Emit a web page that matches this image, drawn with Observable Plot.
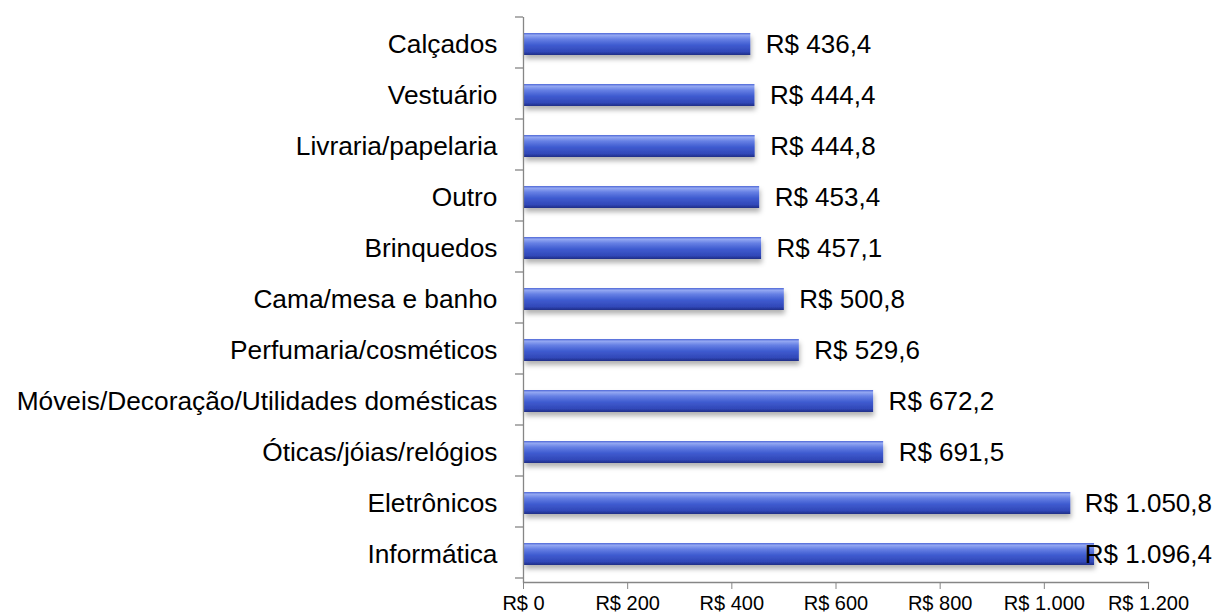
<!DOCTYPE html>
<html>
<head>
<meta charset="utf-8">
<script src="https://cdn.jsdelivr.net/npm/d3@7"></script>
<script src="https://cdn.jsdelivr.net/npm/@observablehq/plot@0.6"></script>
<style>
  html, body { margin: 0; padding: 0; background: #fff; }
  #chart svg { display: block; font-family: "Liberation Sans", Arial, sans-serif; }
</style>
</head>
<body>
<div id="chart"></div>
<script>
const categories = [
  "Calçados", "Vestuário", "Livraria/papelaria", "Outro", "Brinquedos",
  "Cama/mesa e banho", "Perfumaria/cosméticos",
  "Móveis/Decoração/Utilidades domésticas", "Óticas/jóias/relógios",
  "Eletrônicos", "Informática"
];
const values = [436.4, 444.4, 444.8, 453.4, 457.1, 500.8, 529.6, 672.2, 691.5, 1050.8, 1096.4];
const xTicks = [0, 200, 400, 600, 800, 1000, 1200];

const data = categories.map((c, i) => ({category: c, value: values[i]}));

const br = d3.formatLocale({decimal: ",", thousands: ".", grouping: [3], currency: ["R$ ", ""]});
const fmtVal = br.format(",.1f");
const fmtTick = br.format(",.0f");

const W = 1214, H = 616;

const boundaryTicks = (index, scales, values, dims) => {
  const y = scales.y;
  const [r0] = y.range();
  const step = y.step();
  const g = d3.create("svg:g").attr("stroke", "#868686").attr("stroke-width", 1.3);
  for (let i = 0; i <= categories.length; i++) {
    const yy = r0 + i * step;
    g.append("line")
      .attr("x1", dims.marginLeft - 8).attr("x2", dims.marginLeft)
      .attr("y1", yy).attr("y2", yy);
  }
  return g.node();
};

const svg = Plot.plot({
  width: W,
  height: H,
  marginLeft: 523,
  marginRight: 66,
  marginTop: 17,
  marginBottom: 34,
  style: {fontFamily: "'Liberation Sans', Arial, sans-serif", color: "#000"},
  x: {domain: [0, 1200]},
  y: {domain: categories, paddingInner: 0.56, paddingOuter: 0.28},
  marks: [
    Plot.barX(data, {x: "value", y: "category", fill: "url(#barGrad)", insetLeft: 1}),
    Plot.ruleX([0], {stroke: "#868686", strokeWidth: 1.3}),
    Plot.frame({anchor: "bottom", stroke: "#868686", strokeWidth: 1.3}),
    boundaryTicks,
    Plot.axisY({tickSize: 0, tickPadding: 26, fontSize: 26.3, label: null}),
    Plot.axisX({ticks: xTicks, tickFormat: d => "R$ " + fmtTick(d), tickSize: 7, tickPadding: 6,
                fontSize: 20, label: null, stroke: "#868686"}),
    Plot.text(data, {x: "value", y: "category", text: d => "R$ " + fmtVal(d.value),
                     textAnchor: "start", dx: 15, fontSize: 26, fill: "#000"})
  ]
});

// gradient + shadow definitions
const s = d3.select(svg);
const defs = s.insert("defs", ":first-child");
const grad = defs.append("linearGradient").attr("id", "barGrad")
  .attr("x1", 0).attr("y1", 0).attr("x2", 0).attr("y2", 1);
[[0, "#4d66d6"], [0.1, "#94a8f2"], [0.28, "#6680e4"], [0.55, "#3f5bd0"], [0.85, "#3148b8"], [1, "#1e2d86"]]
  .forEach(([o, c]) => grad.append("stop").attr("offset", o).attr("stop-color", c));
const f = defs.append("filter").attr("id", "barShadow")
  .attr("x", "-5%").attr("y", "-30%").attr("width", "115%").attr("height", "180%");
f.append("feDropShadow").attr("dx", 1).attr("dy", 4).attr("stdDeviation", 2.5)
  .attr("flood-color", "#000").attr("flood-opacity", 0.3);

s.selectAll('g[aria-label="bar"] rect').attr("fill", "url(#barGrad)").attr("filter", "url(#barShadow)");

document.getElementById("chart").append(svg);

// keep value labels inside the picture (as the original does)
s.selectAll('g[aria-label="text"] text').each(function() {
  const b = this.getBBox();
  const m = this.getCTM();
  const right = m.e + (b.x + b.width) * m.a;
  const over = right - (W - 2);
  if (over > 0) {
    const t = this.getAttribute("transform") || "";
    this.setAttribute("transform", t + ` translate(${-over},0)`);
  }
});
</script>
</body>
</html>
